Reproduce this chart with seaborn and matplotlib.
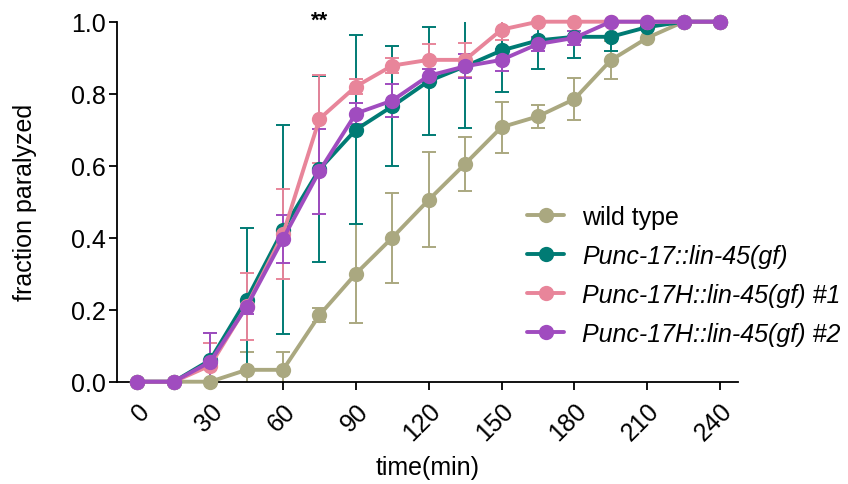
import numpy as np
import pandas as pd
import seaborn as sns
import matplotlib.pyplot as plt

time = [0, 15, 30, 45, 60, 75, 90, 105, 120, 135, 150, 165, 180, 195, 210, 225, 240]

labels = ["wild type", "Punc-17::lin-45(gf)",
          "Punc-17H::lin-45(gf) #1", "Punc-17H::lin-45(gf) #2"]

wt = [0, 0, 0, 0.033, 0.033, 0.185, 0.30, 0.40, 0.505, 0.605, 0.707, 0.737, 0.785, 0.893, 0.955, 1.0, 1.0]
wt_err = [np.nan, np.nan, np.nan, 0.05, 0.05, 0.02, 0.137, 0.125, 0.132, 0.074, 0.071, 0.031, 0.059, 0.052, 0.0, np.nan, np.nan]

teal = [0, 0, 0.06, 0.228, 0.422, 0.59, 0.70, 0.765, 0.835, 0.876, 0.92, 0.948, 0.958, 0.958, 0.985, 1.0, 1.0]
teal_err = [np.nan, np.nan, 0.076, 0.20, 0.29, 0.258, 0.262, 0.167, 0.15, 0.17, 0.115, 0.08, 0.058, 0.04, 0.0, np.nan, np.nan]

pink = [0, 0, 0.045, 0.21, 0.41, 0.73, 0.82, 0.878, 0.894, 0.894, 0.978, 1.0, 1.0, 1.0, 1.0, 1.0, 1.0]
pink_err = [np.nan, np.nan, 0.063, 0.093, 0.126, 0.123, 0.02, 0.02, 0.045, 0.047, 0.03, np.nan, np.nan, np.nan, np.nan, np.nan, np.nan]

purple = [0, 0, 0.055, 0.208, 0.397, 0.585, 0.745, 0.781, 0.85, 0.876, 0.894, 0.938, 0.955, 1.0, 1.0, 1.0, 1.0]
purple_err = [np.nan, np.nan, 0.08, 0.02, 0.067, 0.118, 0.03, 0.045, 0.02, 0.033, 0.03, 0.02, 0.02, np.nan, np.nan, np.nan, np.nan]

colors = ["#aaa880", "#007b74", "#e8859a", "#a04cbf"]

series = [wt, teal, pink, purple]
errs = [wt_err, teal_err, pink_err, purple_err]

df = pd.concat([pd.DataFrame({"time": time, "fraction": s, "strain": lab})
                for s, lab in zip(series, labels)], ignore_index=True)

sns.set_style("ticks")
plt.rcParams['font.family'] = ['Liberation Sans', 'DejaVu Sans']
plt.rcParams['text.color'] = 'black'
plt.rcParams['axes.labelcolor'] = 'black'
plt.rcParams['xtick.color'] = 'black'
plt.rcParams['ytick.color'] = 'black'

fig = plt.figure(figsize=(8.48, 4.85), dpi=100)
ax = fig.add_axes([0.1376, 0.2109, 0.733, 0.7423])

for s, e, c in zip(series, errs, colors):
    ax.errorbar(time, s, yerr=e, fmt='none', ecolor=c, elinewidth=1.4,
                capsize=5, capthick=1.4, zorder=1)

sns.lineplot(data=df, x="time", y="fraction", hue="strain", hue_order=labels,
             palette=colors, marker="o", markersize=11, markeredgewidth=0,
             linewidth=2.8, ax=ax, clip_on=False, zorder=3)

ax.set_xlim(-8.5, 247.5)
ax.set_ylim(0, 1.0)
ax.set_xticks(range(0, 241, 30))
ax.set_yticks([0, 0.2, 0.4, 0.6, 0.8, 1.0])
ax.set_yticklabels(["0.0", "0.2", "0.4", "0.6", "0.8", "1.0"])
for lab in ax.get_xticklabels():
    lab.set_rotation(45)
    lab.set_ha('right')
    lab.set_rotation_mode('anchor')
ax.tick_params(axis='both', labelsize=18, length=6, width=1.3, color='black', labelcolor='black')
ax.tick_params(axis='x', pad=6)
ax.tick_params(axis='y', pad=2)
for sp in ['left', 'bottom']:
    ax.spines[sp].set_linewidth(1.3)
    ax.spines[sp].set_color('black')
sns.despine(ax=ax)

ax.set_xlabel("time(min)", fontsize=18, labelpad=7, color='black')
ax.set_ylabel("fraction paralyzed", fontsize=18, labelpad=24, color='black')

ax.text(75, 1.005, "**", ha='center', va='center', fontsize=16, fontweight='bold', color='black')

leg = ax.legend(frameon=False, loc='center left', bbox_to_anchor=(0.644, 0.296),
                fontsize=18, handlelength=1.5, labelspacing=0.6, handletextpad=0.7,
                borderaxespad=0)
for i, t in enumerate(leg.get_texts()):
    t.set_color('black')
    if i > 0:
        t.set_fontstyle('italic')

fig.savefig("out.png", dpi=100)
